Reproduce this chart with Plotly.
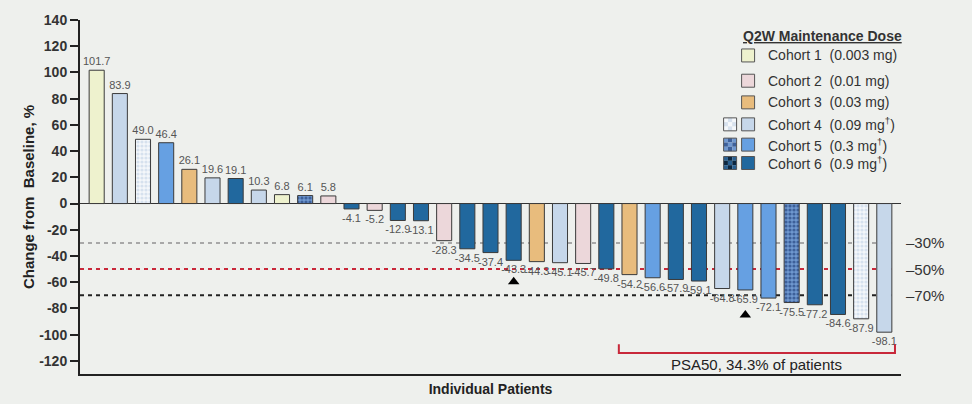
import plotly.graph_objects as go

# ---------------- data ----------------
values = [101.7, 83.9, 49.0, 46.4, 26.1, 19.6, 19.1, 10.3, 6.8, 6.1, 5.8,
          -4.1, -5.2, -12.9, -13.1, -28.3, -34.5, -37.4, -43.3, -44.3, -45.1,
          -45.7, -49.8, -54.2, -56.6, -57.9, -59.1, -64.8, -65.9, -72.1, -75.5,
          -77.2, -84.6, -87.9, -98.1]
cohorts = [1, 4, 4, 5, 3, 4, 6, 4, 1, 5, 2, 6, 2, 6, 6, 2, 6, 6, 6, 3, 4, 2,
           6, 3, 5, 6, 6, 4, 5, 5, 5, 6, 6, 4, 4]
patterned = [0, 0, 1, 0, 0, 0, 0, 0, 0, 1, 0, 0, 0, 0, 0, 0, 0, 0, 0, 0, 0, 0,
             0, 0, 0, 0, 0, 0, 0, 0, 1, 0, 0, 1, 0]
triangle_patients = [18, 28]
triangle_y = [-59.7, -85.0]
thresholds = [-30, -50, -70]
threshold_labels = ["–30%", "–50%", "–70%"]
psa50_first, psa50_last = 23, 34
psa50_text = "PSA50, 34.3% of patients"
legend_title = "Q2W Maintenance Dose"
legend_labels = ["Cohort 1  (0.003 mg)", "Cohort 2  (0.01 mg)",
                 "Cohort 3  (0.03 mg)", "Cohort 4  (0.09 mg<sup>†</sup>)",
                 "Cohort 5  (0.3 mg<sup>†</sup>)", "Cohort 6  (0.9 mg<sup>†</sup>)"]
y_ticks = list(range(-120, 141, 20))
y_tick_text = [str(v) for v in y_ticks]  # plain hyphen minus, as in the reference

# ---------------- styles ----------------
FONT = "Arial, Liberation Sans, sans-serif"
BG = "#eef0ed"
BAR_W = 0.65
solid = {1: "#eef2ce", 2: "#ecd7da", 3: "#e8bc7d", 4: "#c6d7ea", 5: "#66a0e2", 6: "#21689e"}
checker = {4: ("#f5f8fb", "#d6e1ee"), 5: ("#6f98d0", "#3d609a"), 6: ("#2a6090", "#0c2740")}

fig = go.Figure()

def add_bars(idx, color, pattern=None):
    if not idx:
        return
    marker = dict(color=color, line=dict(color="#3a3a3a", width=1))
    if pattern:
        bgc, fgc = pattern
        marker["pattern"] = dict(shape=".", fgcolor=fgc, bgcolor=bgc, size=4,
                                 solidity=0.5, fillmode="replace")
    fig.add_trace(go.Bar(
        x=idx, y=[values[i] for i in idx], width=BAR_W, marker=marker,
        text=[f"{values[i]:.1f}" for i in idx], textposition="outside",
        constraintext="none", cliponaxis=False,
        textfont=dict(family=FONT, size=11, color="#555555"),
        showlegend=False, hoverinfo="skip"))

for c in sorted(solid):
    add_bars([i for i in range(len(values)) if cohorts[i] == c and not patterned[i]], solid[c])
for c in sorted(checker):
    add_bars([i for i in range(len(values)) if cohorts[i] == c and patterned[i]],
             checker[c][0], checker[c])

fig.add_trace(go.Scatter(
    x=triangle_patients, y=triangle_y, mode="markers",
    marker=dict(symbol="triangle-up", size=10, color="black"),
    showlegend=False, hoverinfo="skip"))

# plot area geometry (px)
L, R, T, B = 80, 901.5, 19.5, 374
W, H = 972, 404
def px(xp):
    return (xp - L) / (R - L)
def py(yp):
    return (B - yp) / (B - T)

shapes = []
line_cols = ["#a8a8a8", "#c8283a", "#222222"]
for t, col in zip(thresholds, line_cols):
    shapes.append(dict(type="line", xref="paper", yref="y", x0=0, x1=px(896), y0=t, y1=t,
                       line=dict(color=col, width=2, dash="4px,4px"), layer="below"))
# PSA50 bracket
bl, br = psa50_first - 0.46, psa50_last + 0.46
shapes.append(dict(type="path", xref="x", yref="y",
                   path=f"M {bl},-107.3 L {bl},-113.9 L {br},-113.9 L {br},-107.3",
                   line=dict(color="#c8283a", width=2)))

annotations = []
for t, lab in zip(thresholds, threshold_labels):
    annotations.append(dict(x=px(905), xref="paper", y=t, yref="y", text=lab,
                            showarrow=False, xanchor="left", yanchor="middle",
                            font=dict(family=FONT, size=15, color="#333333")))
annotations.append(dict(x=(bl + br) / 2, xref="x", y=-122.5, yref="y", text=psa50_text,
                        showarrow=False, xanchor="center", yanchor="middle",
                        font=dict(family=FONT, size=15, color="#222222")))

# custom legend
annotations.append(dict(x=px(823), xref="paper", y=py(36), yref="paper",
                        text=f"<b><u>{legend_title}</u></b>", showarrow=False,
                        xanchor="center", yanchor="middle",
                        font=dict(family=FONT, size=14, color="#333333")))
row_y = [55, 80.3, 102, 124, 144.3, 162.7]
sw = 13
for i, (lab, yc) in enumerate(zip(legend_labels, row_y)):
    c = i + 1
    shapes.append(dict(type="rect", xref="paper", yref="paper",
                       x0=px(742), x1=px(742 + sw), y0=py(yc + sw / 2), y1=py(yc - sw / 2),
                       fillcolor=solid[c], line=dict(color="#555555", width=1)))
    if c in checker:
        bgc, fgc = checker[c]
        x0p = 724
        n = 3
        s = sw / n
        for a in range(n):
            for b in range(n):
                col = fgc if (a + b) % 2 == 1 else bgc
                shapes.append(dict(type="rect", xref="paper", yref="paper",
                                   x0=px(x0p + a * s), x1=px(x0p + (a + 1) * s),
                                   y0=py(yc - sw / 2 + (b + 1) * s), y1=py(yc - sw / 2 + b * s),
                                   fillcolor=col, line=dict(width=0)))
        shapes.append(dict(type="rect", xref="paper", yref="paper",
                           x0=px(x0p), x1=px(x0p + sw), y0=py(yc + sw / 2), y1=py(yc - sw / 2),
                           line=dict(color="#555555", width=1)))
    annotations.append(dict(x=px(766), xref="paper", y=py(yc), yref="paper", text=lab,
                            showarrow=False, xanchor="left", yanchor="middle",
                            font=dict(family=FONT, size=14, color="#333333")))

fig.update_layout(
    width=W, height=H,
    margin=dict(l=L, r=W - R, t=T, b=H - B, autoexpand=False),
    paper_bgcolor=BG, plot_bgcolor=BG,
    barmode="overlay",
    shapes=shapes, annotations=annotations,
    font=dict(family=FONT),
    xaxis=dict(range=[-0.72, 34.72], showticklabels=False, ticks="", showgrid=False,
               zeroline=False, showline=True, linecolor="#222222", linewidth=2,
               title=dict(text="Individual Patients", standoff=9,
                          font=dict(family=FONT, size=14, color="#222222", weight="bold"))),
    yaxis=dict(range=[-130, 140], tickvals=y_ticks, ticktext=y_tick_text, showgrid=False,
               ticks="outside", ticklen=8, tickwidth=2, tickcolor="#222222",
               showline=True, linecolor="#222222", linewidth=2,
               zeroline=True, zerolinecolor="#333333", zerolinewidth=1,
               tickfont=dict(family=FONT, size=14, color="#333333", weight="bold"),
               title=dict(text="Change from  Baseline, %", standoff=1,
                          font=dict(family=FONT, size=15, color="#222222", weight="bold"))),
)

fig.write_html(
    "out.html",
    config={"displayModeBar": False, "staticPlot": True},
    post_script=("document.body.style.margin='0';document.body.style.padding='0';"
                 "document.body.style.background='%s';"
                 "document.documentElement.style.background='%s';" % (BG, BG)),
)
